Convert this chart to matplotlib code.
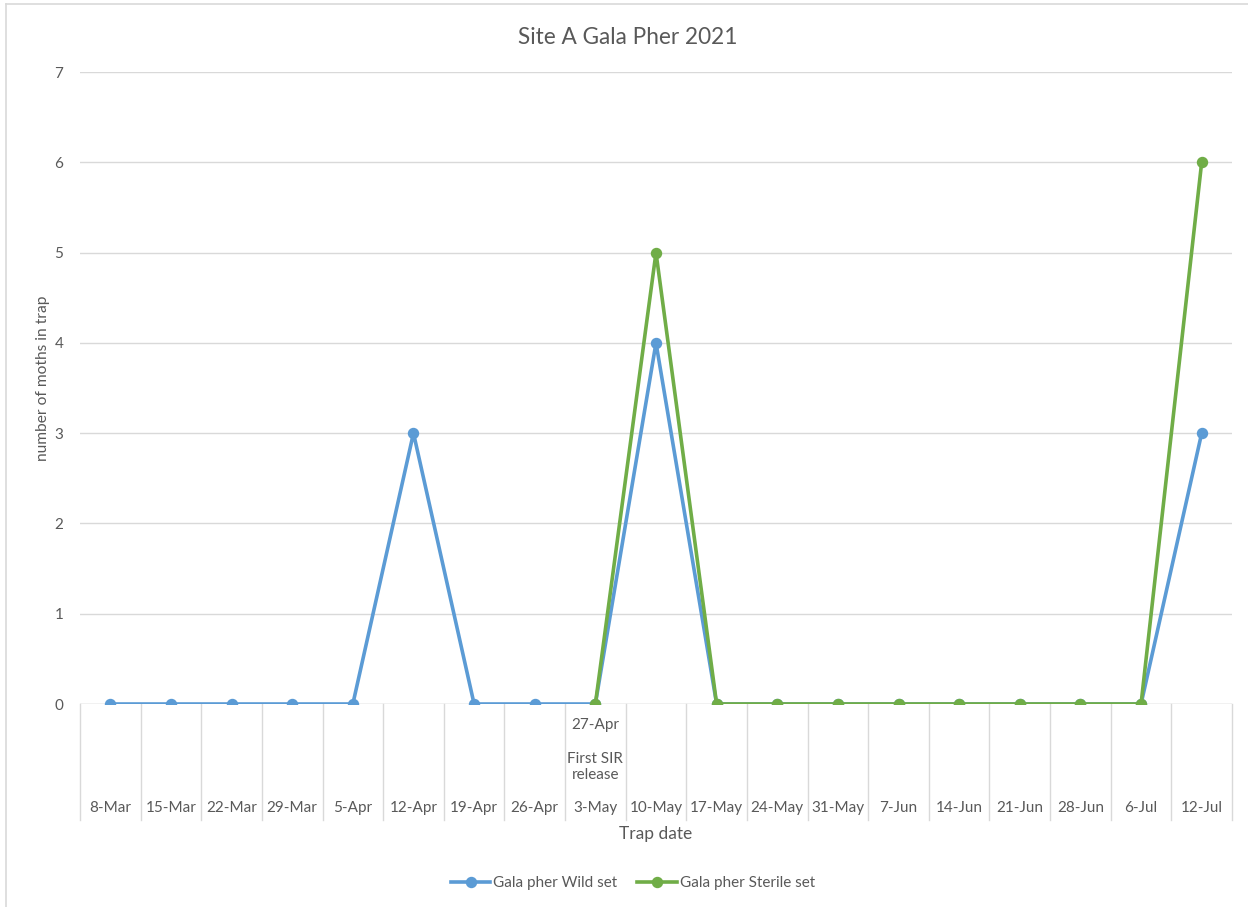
import matplotlib
matplotlib.use("Agg")
import matplotlib.pyplot as plt
import numpy as np
from matplotlib.lines import Line2D

plt.rcParams["font.family"] = ["Lato", "DejaVu Sans"]

# ---------------------------------------------------------------------------
# Data
# ---------------------------------------------------------------------------
DATES = ["8-Mar", "15-Mar", "22-Mar", "29-Mar", "5-Apr", "12-Apr", "19-Apr",
         "26-Apr", "3-May", "10-May", "17-May", "24-May", "31-May", "7-Jun",
         "14-Jun", "21-Jun", "28-Jun", "6-Jul", "12-Jul"]
# upper row of the two-level category axis (only one cell is filled)
UPPER_LABELS = ["", "", "", "", "", "", "", "", "27-Apr\n\nFirst SIR\nrelease",
                "", "", "", "", "", "", "", "", "", ""]
WILD = [0, 0, 0, 0, 0, 3, 0, 0, 0, 4, 0, 0, 0, 0, 0, 0, 0, 0, 3]
STERILE = [np.nan] * 8 + [0, 5, 0, 0, 0, 0, 0, 0, 0, 0, 6]

BLUE = "#5B9BD5"
GREEN = "#70AD47"
GRID = "#D9D9D9"
TEXT = "#595959"

W, H = 1248, 907
fig = plt.figure(figsize=(W / 100, H / 100), dpi=100)

# plot area in pixels: x 80..1232, y 72..704
ax = fig.add_axes([80 / W, 1 - 704 / H, (1232 - 80) / W, (704 - 72) / H])
px = (704 - 72) / 7  # pixels per y unit

x = np.arange(len(DATES))
ax.plot(x, WILD, "-o", color=BLUE, lw=2.6, ms=7.2, zorder=3,
        solid_joinstyle="round", label="Gala pher Wild set")
ax.plot(x, STERILE, "-o", color=GREEN, lw=2.6, ms=7.2, zorder=4,
        solid_joinstyle="round", label="Gala pher Sterile set")

ax.set_xlim(-0.5, len(DATES) - 0.5)
ax.set_ylim(0, 7)
ax.set_yticks(range(0, 8))
ax.yaxis.grid(True, color=GRID, lw=1.0)
ax.set_axisbelow(True)
for s in ax.spines.values():
    s.set_visible(False)
ax.axhline(0, color=GRID, lw=1.0, zorder=1)
ax.tick_params(axis="y", length=0, pad=12, labelcolor=TEXT, labelsize=11)
ax.set_xticks([])

# category separators and labels of the two-level axis
sep_depth = (820 - 704) / px
for i in range(len(DATES) + 1):
    ax.plot([i - 0.5, i - 0.5], [0, -sep_depth], color=GRID, lw=1.0,
            clip_on=False, zorder=1)
for i, (d, u) in enumerate(zip(DATES, UPPER_LABELS)):
    ax.text(i, -(808 - 704) / px, d, ha="center", va="center", fontsize=11,
            color=TEXT)
    if u:
        first, rest = u.split("\n\n")
        ax.text(i, -(725 - 704) / px, first, ha="center", va="center",
                fontsize=11, color=TEXT)
        ax.text(i, -(767 - 704) / px, rest, ha="center", va="center",
                fontsize=11, color=TEXT, linespacing=1.25)

fig.text(656 / W, 1 - 834 / H, "Trap date", ha="center", va="center",
         fontsize=12.5, color=TEXT)
fig.text(43 / W, 1 - 378 / H, "number of moths in trap", ha="center",
         va="center", rotation=90, fontsize=11.2, color=TEXT)
fig.text(628 / W, 1 - 37 / H, "Site A Gala Pher 2021", ha="center",
         va="center", fontsize=16.3, color=TEXT)

handles = [Line2D([], [], color=BLUE, lw=2.6, marker="o", ms=7.2),
           Line2D([], [], color=GREEN, lw=2.6, marker="o", ms=7.2)]
fig.legend(handles, ["Gala pher Wild set", "Gala pher Sterile set"],
           loc="center", bbox_to_anchor=(633 / W, 1 - 883 / H), ncol=2,
           frameon=False, fontsize=11, handlelength=2.6, handletextpad=0.2,
           columnspacing=1.3, labelcolor=TEXT)

# outer chart border (top and left visible)
fig.add_artist(Line2D([6 / W, 6 / W], [0, 1 - 4 / H], color=GRID, lw=1.2,
                      transform=fig.transFigure))
fig.add_artist(Line2D([6 / W, 1], [1 - 4 / H, 1 - 4 / H], color=GRID, lw=1.2,
                      transform=fig.transFigure))

fig.savefig("out.png", dpi=100)
